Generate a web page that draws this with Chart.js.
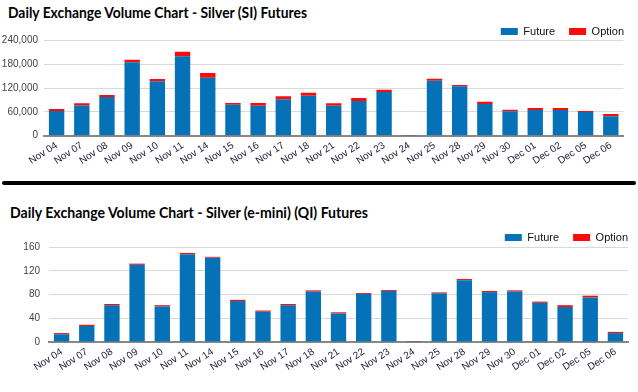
<!DOCTYPE html>
<html><head><meta charset="utf-8">
<script src="https://cdn.jsdelivr.net/npm/chart.js@4.4.0/dist/chart.umd.min.js"></script>
<style>
html,body{margin:0;padding:0;background:#fff;}
body{width:638px;height:392px;overflow:hidden;position:relative;}
.t{position:absolute;font-family:Lato,'Open Sans',sans-serif;font-weight:bold;font-size:14.5px;line-height:18px;white-space:nowrap;transform-origin:left top;color:#000;}
#sep{position:absolute;left:2px;top:181px;width:634px;height:4px;background:#000;border-radius:2px;}
.box{position:absolute;left:0;width:638px;}
</style></head><body>
<div class="t" id="t1" style="left:8px;top:4px;">Daily Exchange Volume Chart - Silver (SI) Futures</div>
<div id="sep"></div>
<div class="t" id="t2" style="left:10px;top:204px;">Daily Exchange Volume Chart - Silver (e-mini) (QI) Futures</div>
<div class="box" style="top:0;height:180px;"><canvas id="c1" width="638" height="180"></canvas></div>
<div class="box" style="top:188px;height:204px;"><canvas id="c2" width="638" height="204"></canvas></div>
<script>
const categories = ['Nov 04','Nov 07','Nov 08','Nov 09','Nov 10','Nov 11','Nov 14','Nov 15','Nov 16','Nov 17','Nov 18','Nov 21','Nov 22','Nov 23','Nov 24','Nov 25','Nov 28','Nov 29','Nov 30','Dec 01','Dec 02','Dec 05','Dec 06'];
const siFuture = [62000,76000,97500,184500,137000,200000,146000,78000,75500,91500,100500,75500,87500,110000,700,138500,124500,80000,61500,64500,64500,59500,49000];
const siOption = [5000,5500,5000,6500,5500,11000,11500,4500,7000,8000,7500,6000,7500,5500,700,4500,3000,5500,4000,5000,5000,2500,5500];
const qiFuture = [13,27,62,130,60,148,142,69,51,62,85,48,81,86,0.4,82,104,84,85,66,59,75,15];
const qiOption = [2,2,2,2,2,2,1.5,2,2,2,2,2,1.5,1.5,0.4,1.5,2,2,2,2,3,3,2];
const siTicks = {max:240000, step:60000};
const qiTicks = {max:160, step:40};

function fitTitle(id, w){ const el=document.getElementById(id); const r=el.getBoundingClientRect().width; el.style.transform='scaleX('+(w/r)+')'; }
fitTitle('t1', 299); fitTitle('t2', 358);

function makeChart(id, fut, opt, tk, L){
  const legendFix = {
    id:'legendFix',
    beforeLayout(chart){
      const lg = chart.legend;
      if (lg && !lg._wrapped){ const f = lg.fit; lg.fit = function(){ f.apply(this, arguments); this.height = L.legH; }; lg._wrapped = true; }
    },
    afterLayout(chart){
      const lg = chart.legend; const w = lg.right - lg.left;
      lg.right = L.textRight + 14; lg.left = lg.right - w;
    }
  };
  return new Chart(document.getElementById(id), {
    type:'bar',
    data:{ labels:categories, datasets:[
      {label:'Future', data:fut, backgroundColor:'#0572b8', borderWidth:0},
      {label:'Option', data:opt, backgroundColor:'#ff0a0a', borderWidth:0}
    ]},
    options:{
      responsive:false, animation:false,
      layout:{padding:{top:L.padTop, left:0, right:L.padRight, bottom:0}},
      datasets:{bar:{categoryPercentage:1, barPercentage:0.61}},
      plugins:{
        title:{display:false},
        tooltip:{enabled:false},
        legend:{position:'top', align:'end',
          labels:{boxWidth:17, boxHeight:7, padding:14, color:'#111', font:{family:'Liberation Sans, Arial', size:11}}}
      },
      scales:{
        x:{stacked:true,
          grid:{display:false, drawTicks:false},
          border:{display:true, color:'#888', width:2},
          ticks:{autoSkip:false, minRotation:33, maxRotation:33, padding:4, color:'#1a1a33', font:{family:'Liberation Sans, Arial', size:10}},
          afterFit(s){ s.height = L.xH; }
        },
        y:{stacked:true, min:0, max:tk.max,
          grid:{color:'#d9d9d9', drawTicks:false, lineWidth:1},
          border:{display:false},
          ticks:{stepSize:tk.step, padding:L.yPad, color:'#444', font:{family:'Liberation Sans, Arial', size:10}},
          afterFit(s){ s.width = L.yW; }
        }
      }
    },
    plugins:[legendFix]
  });
}
makeChart('c1', siFuture, siOption, siTicks, {padTop:12, legH:28.3, textRight:624, padRight:14.6, xH:44.3, yW:44, yPad:6});
makeChart('c2', qiFuture, qiOption, qiTicks, {padTop:30, legH:29, textRight:628, padRight:10, xH:50, yW:49, yPad:9});
</script>
</body></html>
